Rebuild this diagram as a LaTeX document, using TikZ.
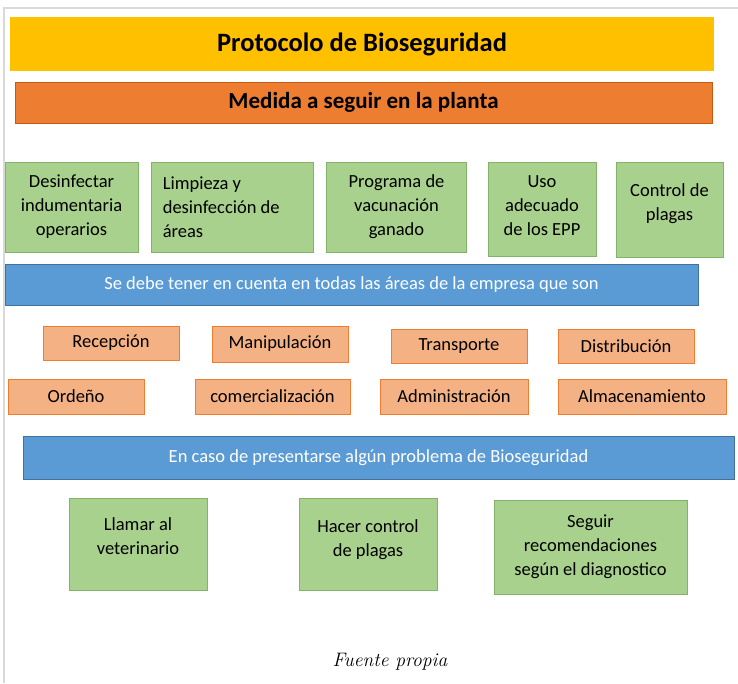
\documentclass[tikz,border=0pt]{standalone}
\usepackage{fontspec}
\setmainfont{Carlito}
\newfontfamily\capfont{Latin Modern Roman}
\definecolor{ygold}{HTML}{FFC000}
\definecolor{oran}{HTML}{ED7D31}
\definecolor{oranline}{HTML}{C55A11}
\definecolor{gfill}{HTML}{A9D18E}
\definecolor{gline}{HTML}{82B366}
\definecolor{bfill}{HTML}{5B9BD5}
\definecolor{bline}{HTML}{41719C}
\definecolor{sfill}{HTML}{F4B183}
\definecolor{sline}{HTML}{ED7D31}
\begin{document}
\begin{tikzpicture}[x=1pt,y=-1pt,
  box/.style={inner sep=0pt, line width=0.8pt, align=center},
  gfont/.style={font={\fontsize{18.5}{24}\selectfont}},
  gbox/.style={box, fill=gfill, draw=gline, gfont},
  sbox/.style={box, fill=sfill, draw=sline, font={\fontsize{18.5}{20}\selectfont}},
  bbar/.style={box, fill=bfill, draw=bline, text=white, font={\fontsize{18.5}{20}\selectfont}},
]
\useasboundingbox (0,0) rectangle (738,683);
\fill[white] (0,0) rectangle (738,683);
\draw[black!15, line width=1.5pt] (4,683) -- (4,8) -- (738,8);
% top bars
\node[box, fill=ygold, minimum width=704, minimum height=54, font={\fontsize{26.5}{30}\selectfont\bfseries}] (title) at (362,44) {Protocolo de Bioseguridad};
\node[box, fill=oran, draw=oranline, minimum width=697, minimum height=41, font={\fontsize{23}{26}\selectfont\bfseries}] (medida) at (363.5,102.5) {Medida a seguir en la planta};
% green row 1
\node[gbox, minimum width=133, minimum height=90] (g1) at (71.5,207) {Desinfectar\\indumentaria\\operarios};
\node[gbox, minimum width=162, minimum height=90] (g2) at (232,207) {};
\node[gfont, inner sep=0pt, align=left, anchor=west] (g2t) at ([xshift=12pt]g2.west) {Limpieza y\\desinfección de\\áreas};
\node[gbox, minimum width=140, minimum height=90] (g3) at (396.5,207) {Programa de\\vacunación\\ganado};
\node[gbox, minimum width=108, minimum height=94, text depth=6pt] (g4) at (542,209) {Uso\\adecuado\\de los EPP};
\node[gbox, minimum width=107, minimum height=95, text depth=14pt] (g5) at (669.5,209.5) {Control de\\plagas};
% blue bar 1
\node[bbar, minimum width=693, minimum height=41] (b1) at (351.5,284.5) {Se debe tener en cuenta en todas las áreas de la empresa que son};
% salmon row 1
\node[sbox, minimum width=136, minimum height=34] (s1) at (111,343) {Recepción};
\node[sbox, minimum width=136, minimum height=36] (s2) at (280,344) {Manipulación};
\node[sbox, minimum width=136, minimum height=34] (s3) at (459,346) {Transporte};
\node[sbox, minimum width=136, minimum height=34] (s4) at (626,346) {Distribución};
% salmon row 2
\node[sbox, minimum width=136, minimum height=35] (s5) at (76,396.5) {Ordeño};
\node[sbox, minimum width=155, minimum height=35] (s6) at (272.5,396.5) {comercialización};
\node[sbox, minimum width=148, minimum height=35] (s7) at (454,396.5) {Administración};
\node[sbox, minimum width=168, minimum height=35] (s8) at (642,396.5) {Almacenamiento};
% blue bar 2
\node[bbar, minimum width=711, minimum height=43] (b2) at (378.5,457.5) {En caso de presentarse algún problema de Bioseguridad};
% green row 2
\node[gbox, minimum width=138, minimum height=92, text depth=16pt] (h1) at (138,544) {Llamar al\\veterinario};
\node[gbox, minimum width=138, minimum height=92, text depth=12pt] (h2) at (368,544) {Hacer control\\de plagas};
\node[gbox, minimum width=193, minimum height=94] (h3) at (590.5,547) {Seguir\\recomendaciones\\según el diagnostico};
% caption
\node[inner sep=0pt, font={\capfont\itshape\fontsize{19.5}{22}\selectfont}] (cap) at (390,662) {Fuente propia};
\end{tikzpicture}
\end{document}
